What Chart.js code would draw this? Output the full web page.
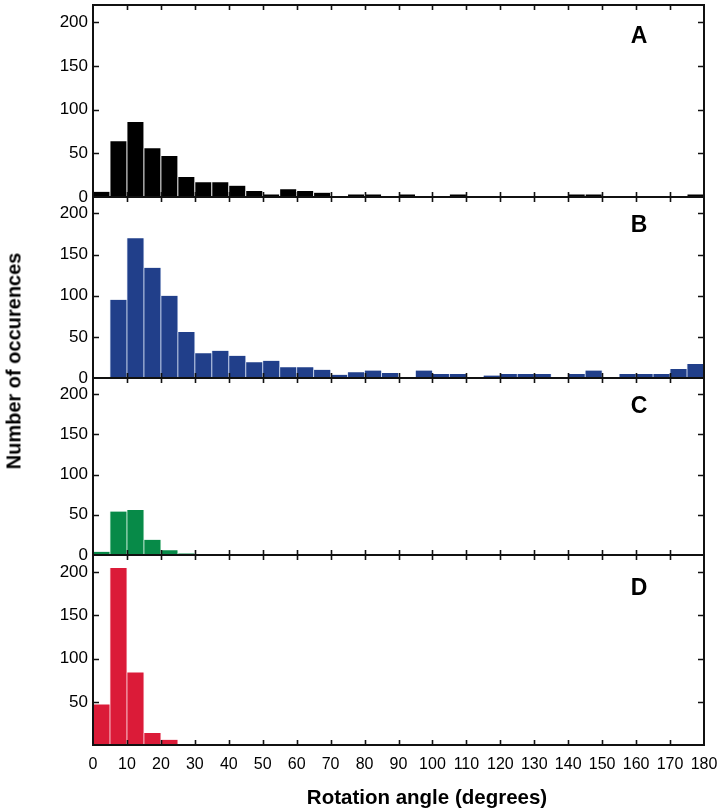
<!DOCTYPE html>
<html>
<head>
<meta charset="utf-8">
<script src="https://cdn.jsdelivr.net/npm/chart.js@4.4.1/dist/chart.umd.min.js"></script>
<style>
  html, body { margin: 0; padding: 0; background: #ffffff; }
  #wrap { position: relative; width: 720px; height: 812px; background: #fff; overflow: hidden; }
  canvas { position: absolute; left: 0; }
  #ytitle { position: absolute; left: 14px; top: 361px; transform: translate(-50%, -50%) rotate(-90deg);
    font: bold 20px "Liberation Sans", Arial, sans-serif; white-space: nowrap; color: #000; }
  #xtitle { position: absolute; left: 427px; top: 797px; transform: translate(-50%, -50%);
    font: bold 20.5px "Liberation Sans", Arial, sans-serif; white-space: nowrap; color: #000; }
</style>
</head>
<body>
<div id="wrap">
  <canvas id="cA" width="720" height="207" style="top:0px"></canvas>
  <canvas id="cB" width="720" height="201" style="top:187px"></canvas>
  <canvas id="cC" width="720" height="197" style="top:368px"></canvas>
  <canvas id="cD" width="720" height="267" style="top:545px"></canvas>
  <div id="ytitle">Number of occurences</div>
  <div id="xtitle">Rotation angle (degrees)</div>
</div>
<script>
// ---- Data (bins of 5 degrees) ----
const binCenters = [2.5, 7.5, 12.5, 17.5, 22.5, 27.5, 32.5, 37.5, 42.5, 47.5, 52.5, 57.5,
  62.5, 67.5, 72.5, 77.5, 82.5, 87.5, 92.5, 97.5, 102.5, 107.5, 112.5, 117.5,
  122.5, 127.5, 132.5, 137.5, 142.5, 147.5, 152.5, 157.5, 162.5, 167.5, 172.5, 177.5];
const seriesA = [6, 64, 86, 56, 47, 23, 17, 17, 13, 7, 3, 9, 7, 5, 1, 3, 3, 1,
  3, 1, 0, 3, 1, 0, 1, 0, 0, 0, 3, 3, 0, 0, 0, 1, 0, 3];
const seriesB = [1, 95, 170, 134, 100, 56, 30, 33, 27, 19, 21, 13, 13, 10, 4, 7, 9, 6,
  1, 9, 5, 5, 1, 3, 5, 5, 5, 1, 5, 9, 1, 5, 5, 5, 11, 17];
const seriesC = [4, 54, 56, 19, 6, 2, 1, 0, 0, 0, 0, 0, 0, 0, 0, 0, 0, 0,
  0, 0, 0, 0, 0, 0, 0, 0, 0, 0, 0, 0, 0, 0, 0, 0, 0, 0];
const seriesD = [47, 205, 84, 14, 6, 0, 0, 0, 0, 0, 0, 0, 0, 0, 0, 0, 0, 0,
  0, 0, 0, 0, 0, 0, 0, 0, 0, 0, 0, 0, 0, 0, 0, 0, 0, 0];
const panelLabels = ['A', 'B', 'C', 'D'];
const xTickValues = [0, 10, 20, 30, 40, 50, 60, 70, 80, 90, 100, 110, 120, 130, 140, 150, 160, 170, 180];
const yTickValues = [0, 50, 100, 150, 200];

const labelFont = "'Liberation Sans', Arial, sans-serif";

const framePlugin = {
  id: 'frame',
  afterDatasetsDraw(chart, args, opts) {
    const ctx = chart.ctx;
    const { left, right, top, bottom } = chart.chartArea;
    const x = chart.scales.x, y = chart.scales.y;
    ctx.save();
    ctx.strokeStyle = '#111';
    ctx.lineWidth = 1.6;
    ctx.beginPath();
    xTickValues.forEach(v => {
      if (v <= 0 || v >= 180) return;
      const px = Math.round(x.getPixelForValue(v)) + 0.5;
      ctx.moveTo(px, top); ctx.lineTo(px, top + 5);
      ctx.moveTo(px, bottom); ctx.lineTo(px, bottom - 5);
    });
    yTickValues.forEach(v => {
      if (v <= 0) return;
      const py = Math.round(y.getPixelForValue(v)) + 0.5;
      ctx.moveTo(left, py); ctx.lineTo(left + 6, py);
      ctx.moveTo(right, py); ctx.lineTo(right - 6, py);
    });
    ctx.stroke();
    ctx.lineWidth = 2;
    ctx.strokeRect(left, top, right - left, bottom - top);
    ctx.fillStyle = '#000';
    ctx.font = "bold 23px 'Liberation Sans', Arial, sans-serif";
    ctx.textAlign = 'center';
    ctx.textBaseline = 'middle';
    ctx.fillText(opts.letter, opts.lx, opts.ly);
    ctx.restore();
  }
};

function makePanel(id, values, color, edge, letter, letterY, padTop, padBottom, showX, hideZero) {
  const data = binCenters.map((c, i) => ({ x: c, y: values[i] }));
  const xScale = {
    type: 'linear',
    min: 0, max: 180,
    offset: false,
    display: showX,
    grid: { display: false, drawTicks: false },
    border: { display: false },
    ticks: {
      stepSize: 10, autoSkip: false, maxRotation: 0, minRotation: 0, padding: 10,
      color: '#000',
      font: { family: labelFont, size: 16 }
    },
    afterFit: s => {
      if (showX) s.height = 67;
      s.paddingLeft = 0; s.paddingRight = 0;
    }
  };
  return new Chart(document.getElementById(id), {
    type: 'bar',
    data: {
      datasets: [{
        data: data,
        backgroundColor: color,
        borderColor: edge,
        borderWidth: { left: 0.8, right: 0.8, top: 0, bottom: 0 },
        barPercentage: 1,
        categoryPercentage: 1
      }]
    },
    options: {
      responsive: false,
      animation: false,
      events: [],
      layout: { padding: { left: 0, right: 16, top: padTop, bottom: padBottom } },
      plugins: {
        legend: { display: false },
        tooltip: { enabled: false },
        frame: { letter: letter, lx: 639, ly: letterY }
      },
      scales: {
        x: xScale,
        y: {
          min: 0, max: 220,
          grid: { display: false, drawTicks: false },
          border: { display: false },
          ticks: {
            stepSize: 50, padding: 5, color: '#000',
            font: { family: labelFont, size: 17 },
            callback: v => (hideZero && v === 0) ? '' : String(v)
          },
          afterFit: s => { s.width = 93; s.paddingTop = 0; s.paddingBottom = 0; },
          afterBuildTicks: s => { s.ticks = yTickValues.map(v => ({ value: v })); }
        }
      }
    },
    plugins: [framePlugin]
  });
}

makePanel('cA', seriesA, '#000000', 'rgba(255,255,255,0.85)', panelLabels[0], 37, 5, 10, false, false);
makePanel('cB', seriesB, '#213f8a', 'rgba(200,212,236,0.9)', panelLabels[1], 39, 10, 10, false, false);
makePanel('cC', seriesC, '#078a48', 'rgba(200,236,214,0.9)', panelLabels[2], 39, 10, 10, false, false);
makePanel('cD', seriesD, '#db1b38', 'rgba(248,200,208,0.9)', panelLabels[3], 44, 10, 0, true, true);
</script>
</body>
</html>
